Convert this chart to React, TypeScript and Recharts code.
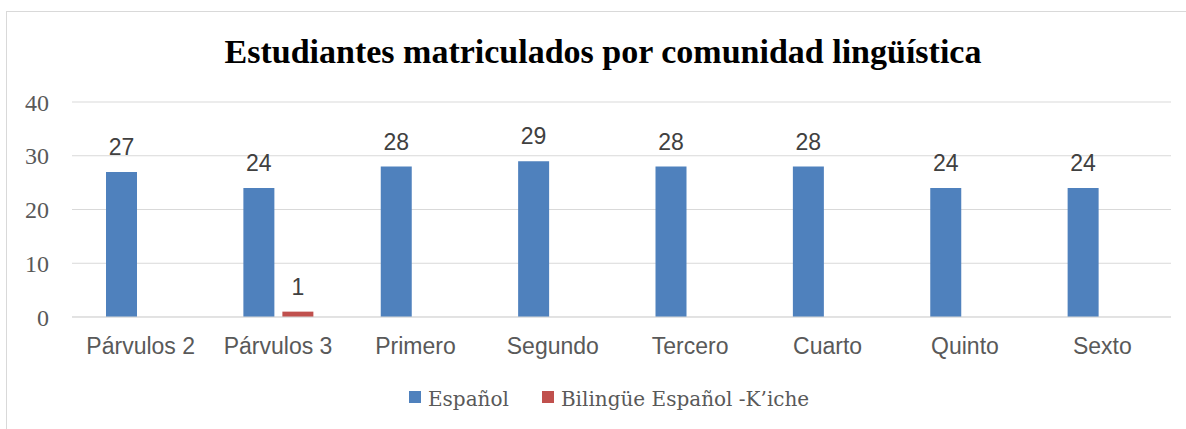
import React from 'react';
import { BarChart, Bar, XAxis, YAxis, CartesianGrid, Legend, LabelList } from 'recharts';

const categories = ['Párvulos 2', 'Párvulos 3', 'Primero', 'Segundo', 'Tercero', 'Cuarto', 'Quinto', 'Sexto'];
const espanol = [27, 24, 28, 29, 28, 28, 24, 24];
const bilingue = [0, 1, 0, 0, 0, 0, 0, 0];
const yTicks = [0, 10, 20, 30, 40];

const seriesNames = ['Español', 'Bilingüe Español -K\u2019iche'];
const seriesColors = ['#4f81bd', '#c0504d'];

const chartData = categories.map((name, i) => ({
    name,
    espanol: espanol[i],
    bilingue: bilingue[i],
}));

const hideZero = (v: any) => (v ? v : '');

const LegendContent = () => (
    <div style={{ display: 'flex', fontFamily: '"DejaVu Serif", serif', fontSize: 20, lineHeight: '20px', color: '#595959' }}>
        {seriesNames.map((n, i) => (
            <div key={n} style={{ display: 'flex', marginRight: i === 0 ? 33 : 0 }}>
                <span style={{ width: 12, height: 12, marginTop: 2, marginRight: 7, background: seriesColors[i], display: 'inline-block' }} />
                <span style={{ whiteSpace: 'nowrap' }}>{n}</span>
            </div>
        ))}
    </div>
);

export default function App() {
    return (
        <div style={{ position: 'absolute', left: 0, top: 0, width: 1186, height: 429, overflow: 'hidden', background: '#fff' }}>
            <div style={{ position: 'absolute', left: 6, top: 11, width: 1200, height: 440, border: '1px solid #d9d9d9', boxSizing: 'border-box' }} />
            <div style={{ position: 'absolute', left: 0, top: 0 }}>
                <BarChart
                    width={1186}
                    height={429}
                    data={chartData}
                    margin={{ top: 102, right: 15, left: 12, bottom: 72 }}
                    barSize={31}
                    barGap={8}
                >
                    <text
                        x={603}
                        y={63}
                        textAnchor="middle"
                        fontFamily='"Liberation Serif", serif'
                        fontWeight="bold"
                        fontSize={34}
                        fill="#000"
                    >
                        Estudiantes matriculados por comunidad lingüística
                    </text>
                    <CartesianGrid vertical={false} stroke="#d9d9d9" />
                    <XAxis
                        dataKey="name"
                        height={40}
                        axisLine={{ stroke: '#d9d9d9' }}
                        tickLine={false}
                        tickMargin={15}
                        interval={0}
                        tick={{ fill: '#595959', fontSize: 23, fontFamily: '"Liberation Sans", Arial, sans-serif' }}
                    />
                    <YAxis
                        width={60}
                        domain={[0, 40]}
                        ticks={yTicks}
                        axisLine={false}
                        tickLine={false}
                        tickMargin={17}
                        tick={{ fill: '#595959', fontSize: 24, fontFamily: '"Liberation Serif", serif' }}
                    />
                    <Legend
                        layout="horizontal"
                        verticalAlign="middle"
                        align="center"
                        content={<LegendContent />}
                        wrapperStyle={{ top: 389, left: 409, width: 'auto' }}
                    />
                    <Bar dataKey="espanol" name={seriesNames[0]} fill={seriesColors[0]} isAnimationActive={false}>
                        <LabelList dataKey="espanol" position="top" offset={17} fill="#404040" fontSize={23} fontFamily='"Liberation Sans", Arial, sans-serif' />
                    </Bar>
                    <Bar dataKey="bilingue" name={seriesNames[1]} fill={seriesColors[1]} isAnimationActive={false}>
                        <LabelList dataKey="bilingue" position="top" offset={17} fill="#404040" fontSize={23} fontFamily='"Liberation Sans", Arial, sans-serif' formatter={hideZero} />
                    </Bar>
                </BarChart>
            </div>
        </div>
    );
}
